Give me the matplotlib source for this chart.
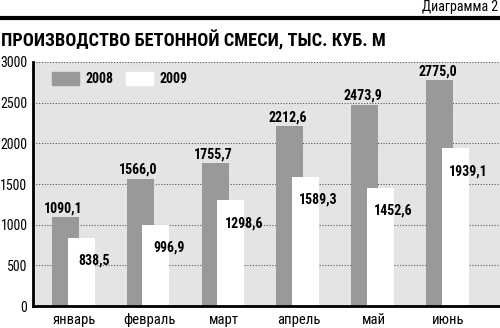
import numpy as np
import matplotlib.pyplot as plt
from matplotlib.patches import Patch

months = ["январь", "февраль", "март", "апрель", "май", "июнь"]
v2008 = [1090.1, 1566.0, 1755.7, 2212.6, 2473.9, 2775.0]
v2009 = [838.5, 996.9, 1298.6, 1589.3, 1452.6, 1939.1]
yticks = [0, 500, 1000, 1500, 2000, 2500, 3000]

font = ['Roboto Condensed', 'PT Sans Narrow', 'DejaVu Sans']
plt.rcParams['font.family'] = font

def fmt(v):
    return f"{v:.1f}".replace(".", ",")

fig = plt.figure(figsize=(5, 3.28), dpi=100)
ax = fig.add_axes([0.066, 0.067, 0.934, 0.744])
ax.set_facecolor("#e4e4e4")

x = np.arange(len(months))
w = 0.36
off = 0.21
ax.bar(x, v2008, w, color="#999999", zorder=2)
ax.bar(x + off, v2009, w, color="white", zorder=3)

for i in range(len(months)):
    ax.annotate(fmt(v2008[i]), (x[i], v2008[i]), xytext=(-2, 2),
                textcoords="offset pixels", ha="center", va="bottom",
                fontsize=10, fontweight="bold", zorder=5)
    ax.annotate(fmt(v2009[i]), (x[i] + off, v2009[i]), xytext=(13, -23),
                textcoords="offset pixels", ha="center", va="center",
                fontsize=10, fontweight="bold", zorder=5)

ax.set_xlim(-0.434, 5.81)
ax.set_ylim(0, 3000)
ax.set_yticks(yticks)
ax.set_xticks(x + 0.12)
ax.set_xticklabels(months)
ax.tick_params(length=0, labelsize=10, pad=4)
ax.tick_params(axis="x", labelsize=10.5, pad=5)
ax.yaxis.grid(True, linestyle=(0, (1, 1.5)), color="#555555", linewidth=0.8, zorder=1)
ax.set_axisbelow(True)
for s in ["top", "right"]:
    ax.spines[s].set_visible(False)
for s in ["left", "bottom"]:
    ax.spines[s].set_linewidth(2)
    ax.spines[s].set_zorder(6)

handles = [Patch(color="#999999", label="2008"), Patch(color="white", label="2009")]
ax.legend(handles=handles, loc="center left", bbox_to_anchor=(0.041, 0.93),
          ncol=2, frameon=False, borderpad=0, borderaxespad=0,
          handlelength=1.95, handleheight=1.0, handletextpad=0.45,
          columnspacing=0.9, prop={"family": font, "weight": "bold", "size": 10})

fig.add_artist(plt.Line2D([0, 1], [1 - 18 / 328, 1 - 18 / 328], color="black",
                          linewidth=3, transform=fig.transFigure))
fig.text(0.995, 1 - 7 / 328, "Диаграмма 2", ha="right", va="center", fontsize=10)
fig.text(0.002, 1 - 40 / 328, "ПРОИЗВОДСТВО БЕТОННОЙ СМЕСИ, ТЫС. КУБ. М",
         ha="left", va="center", fontsize=13.2, fontweight="bold")

fig.savefig("out.png", dpi=100)
